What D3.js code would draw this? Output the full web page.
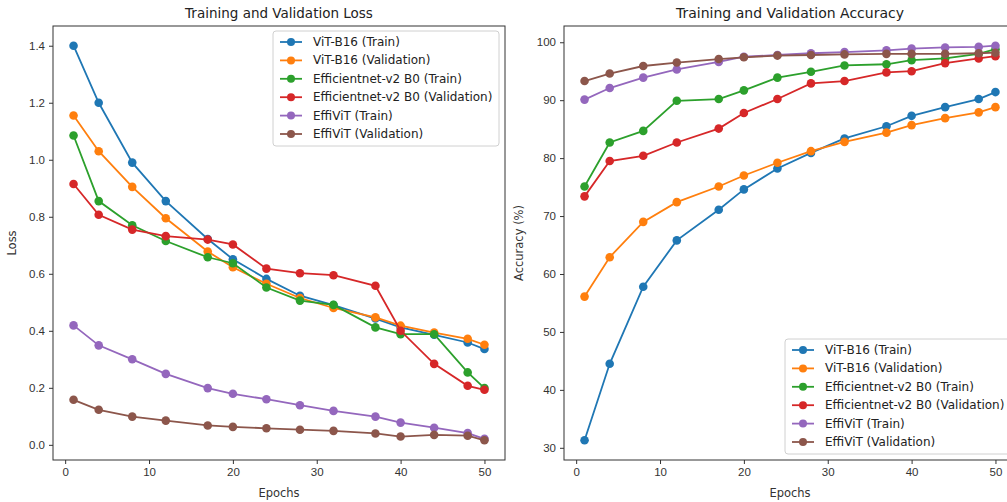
<!DOCTYPE html>
<html>
<head>
<meta charset="utf-8">
<script src="https://cdn.jsdelivr.net/npm/d3@7"></script>
<style>
  body { margin: 0; background: #fff; }
  svg { font-family: "DejaVu Sans", sans-serif; }
</style>
</head>
<body>
<div id="chart"></div>
<script>
// epochs and series
var epochs = [1, 4, 8, 12, 17, 20, 24, 28, 32, 37, 40, 44, 48, 50];

var names = ["ViT-B16 (Train)", "ViT-B16 (Validation)", "Efficientnet-v2 B0 (Train)",
             "Efficientnet-v2 B0 (Validation)", "EffiViT (Train)", "EffiViT (Validation)"];
var colors = ["#1f77b4", "#ff7f0e", "#2ca02c", "#d62728", "#9467bd", "#8c564b"];

var vitTrainLoss = [1.40, 1.20, 0.99, 0.855, 0.722, 0.651, 0.582, 0.523, 0.49, 0.443, 0.412, 0.386, 0.359, 0.336];
var vitValLoss   = [1.155, 1.03, 0.905, 0.795, 0.678, 0.623, 0.565, 0.515, 0.48, 0.447, 0.418, 0.394, 0.372, 0.351];
var effTrainLoss = [1.085, 0.855, 0.77, 0.715, 0.658, 0.637, 0.552, 0.506, 0.491, 0.412, 0.388, 0.388, 0.254, 0.199];
var effValLoss   = [0.915, 0.807, 0.755, 0.732, 0.72, 0.703, 0.618, 0.602, 0.595, 0.558, 0.40, 0.284, 0.207, 0.193];
var effiTrainLoss = [0.419, 0.349, 0.30, 0.249, 0.199, 0.179, 0.16, 0.139, 0.119, 0.099, 0.078, 0.06, 0.041, 0.021];
var effiValLoss   = [0.158, 0.123, 0.099, 0.085, 0.068, 0.063, 0.058, 0.053, 0.049, 0.04, 0.029, 0.035, 0.032, 0.016];

var vitTrainAcc = [31.3, 44.5, 57.8, 65.8, 71.1, 74.6, 78.2, 80.9, 83.4, 85.5, 87.3, 88.8, 90.2, 91.4];
var vitValAcc   = [56.1, 62.9, 69.0, 72.4, 75.1, 77.0, 79.2, 81.2, 82.8, 84.4, 85.7, 86.9, 87.9, 88.8];
var effTrainAcc = [75.1, 82.7, 84.7, 89.9, 90.2, 91.7, 93.9, 94.9, 96.0, 96.2, 96.9, 97.2, 98.0, 98.8];
var effValAcc   = [73.4, 79.5, 80.4, 82.7, 85.1, 87.8, 90.2, 92.9, 93.3, 94.8, 95.0, 96.4, 97.2, 97.6];
var effiTrainAcc = [90.1, 92.1, 93.9, 95.3, 96.6, 97.5, 97.8, 98.1, 98.3, 98.6, 98.9, 99.1, 99.2, 99.4];
var effiValAcc   = [93.3, 94.6, 95.9, 96.5, 97.1, 97.4, 97.7, 97.8, 97.9, 98.0, 98.0, 98.0, 98.1, 98.2];

var lossSeries = [vitTrainLoss, vitValLoss, effTrainLoss, effValLoss, effiTrainLoss, effiValLoss];
var accSeries = [vitTrainAcc, vitValAcc, effTrainAcc, effValAcc, effiTrainAcc, effiValAcc];

var lossTicks = [0.0, 0.2, 0.4, 0.6, 0.8, 1.0, 1.2, 1.4];
var accTicks = [30, 40, 50, 60, 70, 80, 90, 100];
var epochTicks = [0, 10, 20, 30, 40, 50];

var width = 1007, height = 502;
var svg = d3.select("#chart").append("svg")
  .attr("width", width)
  .attr("height", height);

// pad a domain by 5% like matplotlib does
function padded(lo, hi) {
  var m = (hi - lo) * 0.05;
  return [lo - m, hi + m];
}

function drawPanel(opt) {
  var g = svg.append("g").attr("transform", "translate(" + opt.left + "," + opt.top + ")");
  var w = opt.w, h = opt.h;

  var x = d3.scaleLinear()
    .domain(padded(d3.min(epochs), d3.max(epochs)))
    .range([0, w]);
  var all = opt.series.flat();
  var y = d3.scaleLinear()
    .domain(padded(d3.min(all), d3.max(all)))
    .range([h, 0]);

  var xAxis = d3.axisBottom(x).tickValues(epochTicks).tickSize(4).tickPadding(4)
    .tickFormat(d3.format("d"));
  var yAxis = d3.axisLeft(y).tickValues(opt.ticks).tickSize(4).tickPadding(4)
    .tickFormat(opt.fmt);

  g.append("g").attr("transform", "translate(0," + h + ")").call(xAxis);
  g.append("g").call(yAxis);
  g.selectAll(".domain").remove();
  g.selectAll(".tick line").attr("stroke", "#333");
  g.selectAll(".tick text").attr("fill", "#333").style("font-size", "11.5px");

  // frame
  g.append("rect")
    .attr("width", w).attr("height", h)
    .attr("fill", "none").attr("stroke", "#333").attr("stroke-width", 1);

  var line = d3.line()
    .x(function(d, i) { return x(epochs[i]); })
    .y(function(d) { return y(d); });

  opt.series.forEach(function(s, k) {
    g.append("path")
      .datum(s)
      .attr("fill", "none")
      .attr("stroke", colors[k])
      .attr("stroke-width", 1.8)
      .attr("d", line);
    g.selectAll(".pt" + k)
      .data(s)
      .enter()
      .append("circle")
      .attr("class", "pt" + k)
      .attr("cx", function(d, i) { return x(epochs[i]); })
      .attr("cy", function(d) { return y(d); })
      .attr("r", 4.3)
      .attr("fill", colors[k]);
  });

  // title and axis labels
  svg.append("text")
    .attr("x", opt.left + w / 2)
    .attr("y", opt.top - 8)
    .attr("text-anchor", "middle")
    .style("font-size", opt.titleSize)
    .attr("fill", "#222")
    .text(opt.title);
  svg.append("text")
    .attr("x", opt.left + w / 2)
    .attr("y", opt.top + h + 37)
    .attr("text-anchor", "middle")
    .style("font-size", "11.5px")
    .attr("fill", "#333")
    .text("Epochs");
  svg.append("text")
    .attr("transform", "translate(" + (opt.left - opt.ylabOff) + "," + (opt.top + h / 2) + ") rotate(-90)")
    .attr("text-anchor", "middle")
    .style("font-size", "11.5px")
    .attr("fill", "#333")
    .text(opt.ylabel);

  // legend
  var lg = svg.append("g").attr("transform", "translate(" + opt.legX + "," + opt.legY + ")");
  lg.append("rect")
    .attr("width", opt.legW).attr("height", 115)
    .attr("rx", 3)
    .attr("fill", "#fff").attr("fill-opacity", 0.85)
    .attr("stroke", "#d0d0d0");
  names.forEach(function(n, k) {
    var yy = 11 + k * 18.4;
    lg.append("line")
      .attr("x1", 7).attr("x2", 29).attr("y1", yy).attr("y2", yy)
      .attr("stroke", colors[k]).attr("stroke-width", 1.8);
    lg.append("circle").attr("cx", 18).attr("cy", yy).attr("r", 4).attr("fill", colors[k]);
    lg.append("text")
      .attr("x", 40).attr("y", yy + 4)
      .style("font-size", "12px")
      .attr("fill", "#222")
      .text(n);
  });
}

drawPanel({
  left: 53, top: 26, w: 452, h: 434,
  series: lossSeries, ticks: lossTicks, fmt: d3.format(".1f"),
  title: "Training and Validation Loss", titleSize: "13.5px", ylabel: "Loss", ylabOff: 37,
  legX: 273, legY: 31, legW: 226
});

drawPanel({
  left: 564, top: 26, w: 452, h: 434,
  series: accSeries, ticks: accTicks, fmt: d3.format("d"),
  title: "Training and Validation Accuracy", titleSize: "14px", ylabel: "Accuracy (%)", ylabOff: 41,
  legX: 785, legY: 339, legW: 232
});
</script>
</body>
</html>
